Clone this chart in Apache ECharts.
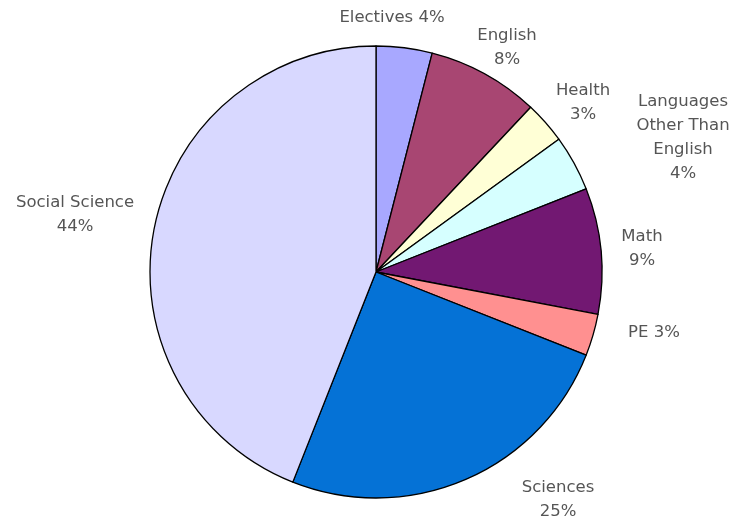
<!DOCTYPE html>
<html>
<head>
<meta charset="utf-8">
<script src="https://cdn.jsdelivr.net/npm/echarts@6/dist/echarts.min.js"></script>
<style>
  html, body { margin: 0; padding: 0; background: #fff; }
  #chart { width: 734px; height: 521px; }
</style>
</head>
<body>
<div id="chart"></div>
<script>
// Share of courses by subject area (percent)
const subjects = [
  'Electives', 'English', 'Health', 'Languages Other Than English',
  'Math', 'PE', 'Sciences', 'Social Science'
];
const shares = [4, 8, 3, 4, 9, 3, 25, 44];

// Slice fills, in subject order
const sliceColors = [
  '#A8A8FF', '#A84672', '#FFFFD6', '#D6FFFF',
  '#721872', '#FF9090', '#0572D6', '#D8D8FF'
];

// Label text blocks (line breaks) and their centre points
const labelLines = {
  'Electives': ['Electives {p}'],
  'English': ['English', '{p}'],
  'Health': ['Health', '{p}'],
  'Languages Other Than English': ['Languages', 'Other Than', 'English', '{p}'],
  'Math': ['Math', '{p}'],
  'PE': ['PE {p}'],
  'Sciences': ['Sciences', '{p}'],
  'Social Science': ['Social Science', '{p}']
};
const labelCentres = [
  [392, 18], [507, 48], [583, 103], [683, 138],
  [642, 249], [654, 333], [558, 500], [75, 215]
];

const chart = echarts.init(document.getElementById('chart'));
chart.setOption({
  animation: false,
  backgroundColor: '#ffffff',
  series: [{
    type: 'pie',
    center: [376, 272],
    radius: 226,
    startAngle: 90,
    clockwise: true,
    avoidLabelOverlap: false,
    itemStyle: { borderColor: '#000', borderWidth: 1.3 },
    label: {
      show: true,
      position: 'outside',
      color: '#555555',
      fontFamily: 'DejaVu Sans',
      fontSize: 16.5,
      lineHeight: 24,
      align: 'center',
      formatter: (p) => labelLines[p.name]
        .map(s => s.replace('{p}', Math.round(p.percent) + '%'))
        .join('\n')
    },
    labelLine: { show: false },
    labelLayout: (p) => ({
      x: labelCentres[p.dataIndex][0],
      y: labelCentres[p.dataIndex][1],
      align: 'center',
      verticalAlign: 'middle'
    }),
    emphasis: { disabled: true },
    data: subjects.map((name, i) => ({
      name: name,
      value: shares[i],
      itemStyle: { color: sliceColors[i] }
    }))
  }]
});
</script>
</body>
</html>
